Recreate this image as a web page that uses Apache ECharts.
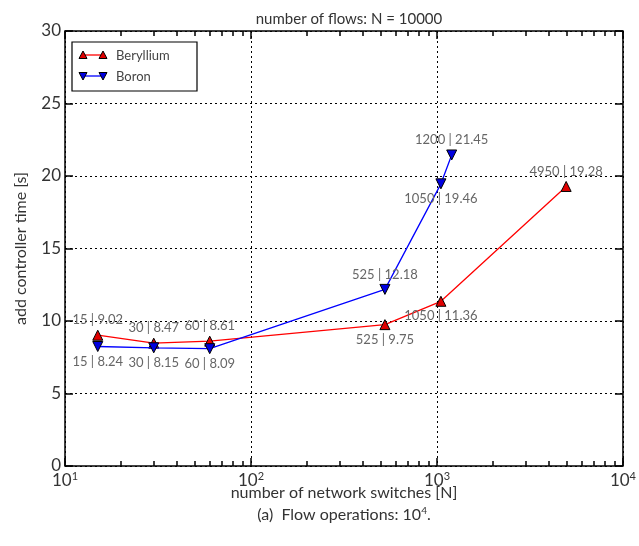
<!DOCTYPE html>
<html><head><meta charset="utf-8">
<script src="https://cdn.jsdelivr.net/npm/echarts@6/dist/echarts.min.js"></script>
<style>html,body{margin:0;padding:0;background:#fff}#c{width:639px;height:546px}</style>
</head><body><div id="c"></div>
<script>
const berylliumX = [15, 30, 60, 525, 1050, 4950];
const berylliumY = [9.02, 8.47, 8.61, 9.75, 11.36, 19.28];
const boronX = [15, 30, 60, 525, 1050, 1200];
const boronY = [8.24, 8.15, 8.09, 12.18, 19.46, 21.45];
const seriesNames = ['Beryllium', 'Boron'];
const xMinor = [20,30,40,50,60,70,80,90,200,300,400,500,600,700,800,900,2000,3000,4000,5000,6000,7000,8000,9000];

const FONT = 'Lato, "Open Sans", sans-serif';
const TICK = '#000';
const berPos = ['top', 'top', 'top', 'bottom', 'bottom', 'top'];
const borPos = ['bottom', 'bottom', 'bottom', 'top', 'bottom', 'top'];

function mk(xs, ys, pos) {
  return xs.map((x, i) => ({ value: [x, ys[i]], label: { position: pos[i] } }));
}

const chart = echarts.init(document.getElementById('c'), null, { renderer: 'canvas' });
function xLabel(v) {
  const e = Math.round(Math.log10(v));
  return '10{s|' + e + '}';
}
const gridRect = { left: 65, right: 15, top: 31, bottom: 80 };
const minorLog = xMinor.map(v => Math.log10(v));
const majorLog = [1, 2, 3, 4];

function tickAxis(pos, vals, len) {
  return {
    type: 'value', min: 1, max: 4, position: pos,
    axisLine: { show: false, onZero: false }, axisLabel: { show: false }, splitLine: { show: false },
    axisTick: { show: true, inside: true, length: len, customValues: vals, lineStyle: { color: TICK, width: 1.5 } }
  };
}

const option = {
  animation: false,
  title: {
    text: 'number of flows: N = 10000',
    left: 344, top: 7, textAlign: 'center',
    textStyle: { fontFamily: FONT, fontSize: 15, fontWeight: 'normal', color: '#333' }
  },
  grid: Object.assign({ show: true, borderColor: '#000', borderWidth: 1.5, backgroundColor: 'transparent' }, gridRect),
  xAxis: [
    {
      type: 'log', logBase: 10, min: 10, max: 10000,
      position: 'bottom',
      name: 'number of network switches [N]', nameLocation: 'middle', nameGap: 19, nameMoveOverlap: false,
      nameTextStyle: { fontFamily: FONT, fontSize: 16, color: '#333' },
      axisLine: { show: false },
      axisTick: { show: false },
      axisLabel: {
        formatter: xLabel, fontFamily: FONT, fontSize: 17, color: '#333', margin: 5,
        rich: { s: { fontSize: 11, verticalAlign: 'top', padding: [0, 0, 8, 0], fontFamily: FONT, color: '#333' } }
      },
      splitLine: { show: true, lineStyle: { type: [2, 3], color: '#000', width: 1 } }
    },
    tickAxis('bottom', majorLog, 8),
    tickAxis('bottom', minorLog, 5),
    tickAxis('top', majorLog, 8),
    tickAxis('top', minorLog, 5)
  ],
  yAxis: [
    {
      type: 'value', min: 0, max: 30, interval: 5, position: 'left',
      name: 'add controller time [s]', nameLocation: 'middle', nameGap: 36, nameMoveOverlap: false,
      nameTextStyle: { fontFamily: FONT, fontSize: 16, color: '#333' },
      axisLine: { show: false, onZero: false },
      axisTick: { show: true, inside: true, length: 8, lineStyle: { color: TICK, width: 1.5 } },
      axisLabel: { fontFamily: FONT, fontSize: 17, color: '#333', margin: 4 },
      splitLine: { show: true, lineStyle: { type: [2, 3], color: '#000', width: 1 } }
    },
    {
      type: 'value', min: 0, max: 30, interval: 5, position: 'right',
      axisLine: { show: false, onZero: false }, axisLabel: { show: false }, splitLine: { show: false },
      axisTick: { show: true, inside: true, length: 8, lineStyle: { color: TICK, width: 1.5 } }
    }
  ],
  series: [
    {
      name: seriesNames[0], type: 'line', xAxisIndex: 0, yAxisIndex: 0,
      data: mk(berylliumX, berylliumY, berPos),
      symbol: 'triangle', symbolSize: 10,
      lineStyle: { color: '#ff0000', width: 1.3 },
      itemStyle: { color: '#e00000', borderColor: '#000', borderWidth: 1 },
      label: {
        show: true, distance: 3, fontFamily: FONT, fontSize: 13, color: '#666',
        formatter: p => p.value[0] + ' | ' + p.value[1].toFixed(2)
      },
      z: 3
    },
    {
      name: seriesNames[1], type: 'line', xAxisIndex: 0, yAxisIndex: 0,
      data: mk(boronX, boronY, borPos),
      symbol: 'triangle', symbolRotate: 180, symbolSize: 10,
      lineStyle: { color: '#0000ff', width: 1.3 },
      itemStyle: { color: '#0000e0', borderColor: '#000', borderWidth: 1 },
      label: {
        show: true, distance: 3, fontFamily: FONT, fontSize: 13, color: '#666',
        formatter: p => p.value[0] + ' | ' + p.value[1].toFixed(2)
      },
      z: 4
    }
  ],
  graphic: [
    { type: 'rect', shape: { x: 72, y: 42, width: 125, height: 49 }, style: { fill: '#fff', stroke: '#000', lineWidth: 1.2 }, z: 10 },
    { type: 'line', shape: { x1: 83, y1: 55, x2: 103, y2: 55 }, style: { stroke: '#ff0000', lineWidth: 1.3 }, z: 11 },
    { type: 'polygon', shape: { points: [[83, 51], [79, 58.5], [87, 58.5]] }, style: { fill: '#e00000', stroke: '#000', lineWidth: 1 }, z: 12 },
    { type: 'polygon', shape: { points: [[103, 51], [99, 58.5], [107, 58.5]] }, style: { fill: '#e00000', stroke: '#000', lineWidth: 1 }, z: 12 },
    { type: 'text', x: 116, y: 56, style: { text: seriesNames[0], fontFamily: FONT, fontSize: 13, fill: '#444', verticalAlign: 'middle' }, z: 12 },
    { type: 'line', shape: { x1: 83, y1: 76, x2: 103, y2: 76 }, style: { stroke: '#0000ff', lineWidth: 1.3 }, z: 11 },
    { type: 'polygon', shape: { points: [[83, 80], [79, 72.5], [87, 72.5]] }, style: { fill: '#0000e0', stroke: '#000', lineWidth: 1 }, z: 12 },
    { type: 'polygon', shape: { points: [[103, 80], [99, 72.5], [107, 72.5]] }, style: { fill: '#0000e0', stroke: '#000', lineWidth: 1 }, z: 12 },
    { type: 'text', x: 116, y: 77, style: { text: seriesNames[1], fontFamily: FONT, fontSize: 13, fill: '#444', verticalAlign: 'middle' }, z: 12 },
    {
      type: 'text', x: 344, y: 515,
      style: {
        text: '(a)  Flow operations: 10{s|4}.',
        rich: { s: { fontSize: 10, verticalAlign: 'top', padding: [0, 0, 8, 0], fontFamily: FONT, fill: '#333' } },
        fontFamily: FONT, fontSize: 16, fill: '#333', align: 'center', verticalAlign: 'middle'
      }
    }
  ]
};
chart.setOption(option);
</script>
</body></html>
